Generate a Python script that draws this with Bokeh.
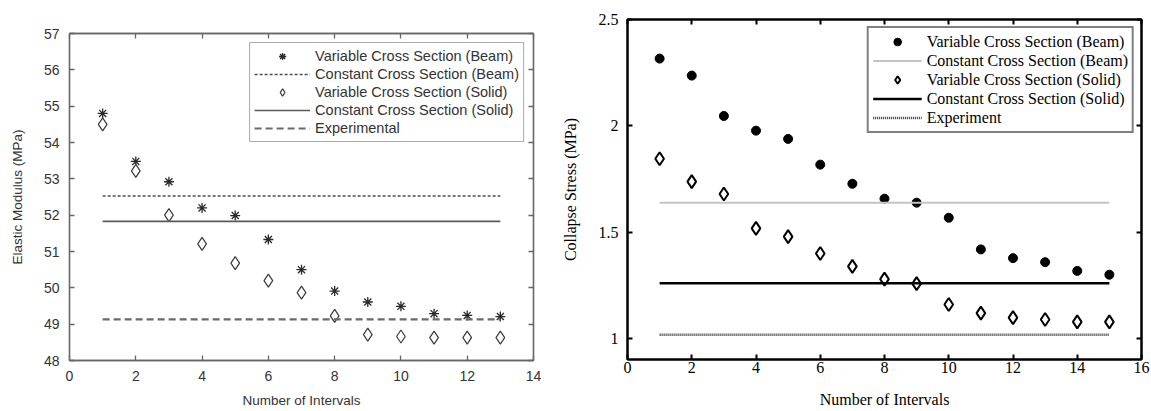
from bokeh.plotting import figure
from bokeh.layouts import row
from bokeh.models import (Legend, LegendItem, LinearAxis, FixedTicker,
                          NumeralTickFormatter, Range1d)
from bokeh.embed import file_html
from bokeh.resources import INLINE

# ---- Elastic modulus vs. number of intervals ----
intervals_e = [1, 2, 3, 4, 5, 6, 7, 8, 9, 10, 11, 12, 13]
modulus_beam = [54.80, 53.48, 52.92, 52.20, 51.99, 51.33, 50.50, 49.91,
                49.61, 49.49, 49.29, 49.24, 49.21]
modulus_solid = [54.50, 53.22, 52.00, 51.21, 50.68, 50.20, 49.87, 49.23,
                 48.71, 48.66, 48.63, 48.63, 48.63]
modulus_const_beam = 52.53
modulus_const_solid = 51.83
modulus_experimental = 49.13
e_xticks = [0, 2, 4, 6, 8, 10, 12, 14]
e_yticks = [48, 49, 50, 51, 52, 53, 54, 55, 56, 57]

# ---- Collapse stress vs. number of intervals ----
intervals_s = [1, 2, 3, 4, 5, 6, 7, 8, 9, 10, 11, 12, 13, 14, 15]
stress_beam = [2.316, 2.236, 2.046, 1.977, 1.938, 1.817, 1.727, 1.657,
               1.638, 1.567, 1.418, 1.377, 1.358, 1.317, 1.299]
stress_solid = [1.845, 1.737, 1.679, 1.517, 1.478, 1.399, 1.338, 1.278,
                1.257, 1.159, 1.118, 1.097, 1.088, 1.077, 1.077]
stress_const_beam = 1.638
stress_const_solid = 1.259
stress_experiment = 1.017
s_xticks = [0, 2, 4, 6, 8, 10, 12, 14, 16]
s_yticks = [1, 1.5, 2, 2.5]


def style_axis(ax, ticker, font, size, color, line_color, line_width,
               label_standoff, tick_standoff, show_labels=True, fmt=None):
    ax.ticker = FixedTicker(ticks=ticker)
    if fmt is not None:
        ax.formatter = fmt
    ax.axis_line_color = line_color
    ax.axis_line_width = line_width
    ax.major_tick_line_color = line_color
    ax.major_tick_line_width = line_width
    ax.major_tick_in = 5
    ax.major_tick_out = 0
    ax.minor_tick_line_color = None
    ax.major_label_text_font = font
    ax.axis_label_text_font = font
    ax.axis_label_text_color = color
    ax.axis_label_text_font_style = "normal"
    ax.axis_label_standoff = label_standoff
    if show_labels:
        ax.major_label_text_color = color
        ax.major_label_text_font_size = size
        ax.major_label_standoff = tick_standoff
    else:
        # tick marks only, no tick labels on the mirrored frame sides
        ax.major_label_text_color = None
        ax.major_label_text_font_size = "1px"
        ax.major_label_standoff = 0


# ================= left panel =================
SANS = "Liberation Sans"
GREY_TXT = "#333333"
GREY_AX = "#666666"

p1 = figure(width=550, height=411, x_range=Range1d(0, 14),
            y_range=Range1d(48, 57), output_backend="svg",
            toolbar_location=None, min_border_left=69, min_border_right=17,
            min_border_top=33, min_border_bottom=51, frame_align=False)
p1.xgrid.visible = False
p1.ygrid.visible = False
p1.outline_line_color = GREY_AX
p1.outline_line_width = 1.3
p1.background_fill_color = "white"
p1.border_fill_color = "white"

p1.xaxis.axis_label = "Number of Intervals"
p1.yaxis.axis_label = "Elastic Modulus (MPa)"
style_axis(p1.xaxis[0], e_xticks, SANS, "14px", GREY_TXT, GREY_AX, 1.3, 9, 10)
style_axis(p1.yaxis[0], e_yticks, SANS, "14px", GREY_TXT, GREY_AX, 1.3, 16, 10)
p1.xaxis.axis_label_text_font_size = "13.5px"
p1.yaxis.axis_label_text_font_size = "13.5px"

top1 = LinearAxis()
style_axis(top1, e_xticks, SANS, "14px", GREY_TXT, GREY_AX, 1.3, 0, 0, False)
p1.add_layout(top1, "above")
right1 = LinearAxis()
style_axis(right1, e_yticks, SANS, "14px", GREY_TXT, GREY_AX, 1.3, 0, 0, False)
p1.add_layout(right1, "right")

x_span_e = [intervals_e[0], intervals_e[-1]]
r_beam = p1.scatter(intervals_e, modulus_beam, marker="asterisk", size=10,
                    line_color="#2a2a2a", line_width=1.3)
r_cbeam = p1.line(x_span_e, [modulus_const_beam] * 2, line_color="#4d4d4d",
                  line_width=1.5, line_dash="3 2")
r_solid = p1.scatter(intervals_e, modulus_solid, marker="diamond", size=13,
                     line_color="#3a3a3a", fill_color="white", line_width=1.2)
r_csolid = p1.line(x_span_e, [modulus_const_solid] * 2, line_color="#5a5a5a",
                   line_width=1.6)
r_exp = p1.line(x_span_e, [modulus_experimental] * 2, line_color="#6a6a6a",
                line_width=2.2, line_dash="7 4")

leg1 = Legend(items=[
    LegendItem(label="Variable Cross Section (Beam)", renderers=[r_beam]),
    LegendItem(label="Constant Cross Section (Beam)", renderers=[r_cbeam]),
    LegendItem(label="Variable Cross Section (Solid)", renderers=[r_solid]),
    LegendItem(label="Constant Cross Section (Solid)", renderers=[r_csolid]),
    LegendItem(label="Experimental", renderers=[r_exp]),
], location="top_right", margin=9, padding=4, spacing=0,
    glyph_width=56, glyph_height=18, label_height=18, label_standoff=5,
    label_text_font=SANS, label_text_font_size="14.5px",
    label_text_color=GREY_TXT, border_line_color="#555555",
    border_line_width=1.3, background_fill_color="white",
    background_fill_alpha=1.0)
p1.add_layout(leg1)

# ================= right panel =================
SERIF = "Liberation Serif"
BLACK = "#000000"

p2 = figure(width=601, height=411, x_range=Range1d(0, 16),
            y_range=Range1d(0.9, 2.5), output_backend="svg",
            toolbar_location=None, min_border_left=77, min_border_right=10,
            min_border_top=19, min_border_bottom=52, frame_align=False)
p2.xgrid.visible = False
p2.ygrid.visible = False
p2.outline_line_color = BLACK
p2.outline_line_width = 2
p2.background_fill_color = "white"
p2.border_fill_color = "white"

p2.xaxis.axis_label = "Number of Intervals"
p2.yaxis.axis_label = "Collapse Stress (MPa)"
style_axis(p2.xaxis[0], s_xticks, SERIF, "16px", BLACK, BLACK, 2, 15, 2)
style_axis(p2.yaxis[0], s_yticks, SERIF, "16px", BLACK, BLACK, 2, 17, 9,
           fmt=NumeralTickFormatter(format="0.[0]"))
p2.xaxis.axis_label_text_font_size = "16px"
p2.yaxis.axis_label_text_font_size = "16px"

top2 = LinearAxis()
style_axis(top2, s_xticks, SERIF, "16px", BLACK, BLACK, 2, 0, 0, False)
p2.add_layout(top2, "above")
right2 = LinearAxis()
style_axis(right2, s_yticks, SERIF, "16px", BLACK, BLACK, 2, 0, 0, False)
p2.add_layout(right2, "right")

x_span_s = [intervals_s[0], intervals_s[-1]]
q_beam = p2.scatter(intervals_s, stress_beam, marker="circle", size=9,
                    line_color=BLACK, fill_color=BLACK, line_width=1)
q_cbeam = p2.line(x_span_s, [stress_const_beam] * 2, line_color="#c4c4c4",
                  line_width=2)
q_solid = p2.scatter(intervals_s, stress_solid, marker="diamond", size=13,
                     line_color=BLACK, fill_color="white", line_width=2)
q_csolid = p2.line(x_span_s, [stress_const_solid] * 2, line_color=BLACK,
                   line_width=2.5)
q_exp = p2.line(x_span_s, [stress_experiment] * 2, line_color="#333333",
                line_width=2.5, line_dash="1 1")

leg2 = Legend(items=[
    LegendItem(label="Variable Cross Section (Beam)", renderers=[q_beam]),
    LegendItem(label="Constant Cross Section (Beam)", renderers=[q_cbeam]),
    LegendItem(label="Variable Cross Section (Solid)", renderers=[q_solid]),
    LegendItem(label="Constant Cross Section (Solid)", renderers=[q_csolid]),
    LegendItem(label="Experiment", renderers=[q_exp]),
], location="top_right", margin=7, padding=4, spacing=0,
    glyph_width=49, glyph_height=19, label_height=19, label_standoff=5,
    label_text_font=SERIF, label_text_font_size="16px",
    label_text_color=BLACK, border_line_color=BLACK,
    border_line_width=2, background_fill_color="white",
    background_fill_alpha=1.0)
p2.add_layout(leg2)

layout = row(p1, p2)
open("out.html", "w").write(file_html(layout, INLINE))
